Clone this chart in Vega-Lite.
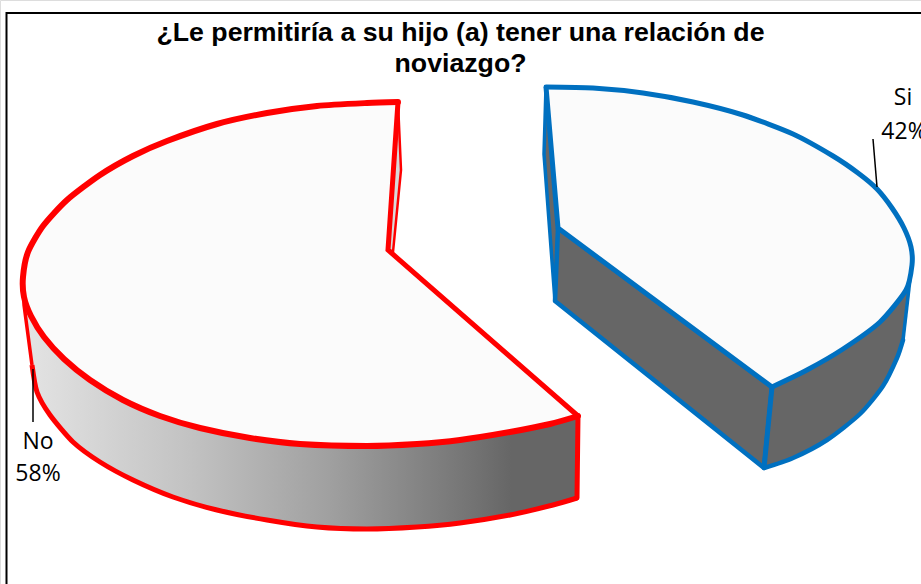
{
"$schema":"https://vega.github.io/schema/vega-lite/v6.json",
"width":921,"height":584,"padding":0,"autosize":{"type":"none"},"background":"white",
"title":{"text":["¿Le permitiría a su hijo (a) tener una relación de","noviazgo?"],"font":"Liberation Sans","fontSize":26.7,"fontWeight":"bold","color":"#000","anchor":"middle","frame":"group","baseline":"top","lineHeight":31,"dy":82},
"datasets":{
"shapes":[
{"part":"frame","o":1,"x":6.5,"y":584},{"part":"frame","o":2,"x":6.5,"y":13},{"part":"frame","o":3,"x":921,"y":13},
{"part":"noSide","o":1,"x":24,"y":297},{"part":"noSide","o":2,"x":24,"y":305},{"part":"noSide","o":3,"x":32,"y":365},{"part":"noSide","o":4,"x":37,"y":392},{"part":"noSide","o":5,"x":50,"y":415},{"part":"noSide","o":6,"x":73,"y":442},{"part":"noSide","o":7,"x":100,"y":462},{"part":"noSide","o":8,"x":133,"y":480},{"part":"noSide","o":9,"x":173,"y":497},{"part":"noSide","o":10,"x":217,"y":510},{"part":"noSide","o":11,"x":267,"y":520},{"part":"noSide","o":12,"x":317,"y":527},{"part":"noSide","o":13,"x":367,"y":529},{"part":"noSide","o":14,"x":417,"y":527},{"part":"noSide","o":15,"x":460,"y":523},{"part":"noSide","o":16,"x":510,"y":515},{"part":"noSide","o":17,"x":553,"y":505},{"part":"noSide","o":18,"x":577,"y":498},{"part":"noSide","o":19,"x":578,"y":416},{"part":"noSide","o":20,"x":367,"y":446},{"part":"noSide","o":21,"x":24,"y":297},
{"part":"noNotch","o":1,"x":398,"y":102},{"part":"noNotch","o":2,"x":401,"y":170},{"part":"noNotch","o":3,"x":393,"y":252},{"part":"noNotch","o":4,"x":388,"y":249},{"part":"noNotch","o":5,"x":398,"y":102},
{"part":"noTop","o":1,"x":398,"y":102},{"part":"noTop","o":2,"x":367,"y":103},{"part":"noTop","o":3,"x":317,"y":106},{"part":"noTop","o":4,"x":267,"y":113},{"part":"noTop","o":5,"x":217,"y":124},{"part":"noTop","o":6,"x":167,"y":141},{"part":"noTop","o":7,"x":133,"y":156},{"part":"noTop","o":8,"x":100,"y":175},{"part":"noTop","o":9,"x":67,"y":200},{"part":"noTop","o":10,"x":43,"y":226},{"part":"noTop","o":11,"x":28,"y":252},{"part":"noTop","o":12,"x":23,"y":277},{"part":"noTop","o":13,"x":24,"y":297},{"part":"noTop","o":14,"x":31,"y":316},{"part":"noTop","o":15,"x":44,"y":337},{"part":"noTop","o":16,"x":64,"y":359},{"part":"noTop","o":17,"x":90,"y":380},{"part":"noTop","o":18,"x":123,"y":400},{"part":"noTop","o":19,"x":160,"y":416},{"part":"noTop","o":20,"x":200,"y":428},{"part":"noTop","o":21,"x":250,"y":438},{"part":"noTop","o":22,"x":300,"y":444},{"part":"noTop","o":23,"x":367,"y":446},{"part":"noTop","o":24,"x":417,"y":444},{"part":"noTop","o":25,"x":460,"y":440},{"part":"noTop","o":26,"x":510,"y":432},{"part":"noTop","o":27,"x":550,"y":424},{"part":"noTop","o":28,"x":578,"y":416},{"part":"noTop","o":29,"x":388,"y":250},{"part":"noTop","o":30,"x":398,"y":102},
{"part":"siSliver","o":1,"x":546,"y":87},{"part":"siSliver","o":2,"x":558,"y":228},{"part":"siSliver","o":3,"x":555,"y":301},{"part":"siSliver","o":4,"x":544,"y":154},{"part":"siSliver","o":5,"x":546,"y":87},
{"part":"siFront","o":1,"x":558,"y":228},{"part":"siFront","o":2,"x":772,"y":387},{"part":"siFront","o":3,"x":764,"y":468},{"part":"siFront","o":4,"x":555,"y":301},{"part":"siFront","o":5,"x":558,"y":228},
{"part":"siOuter","o":1,"x":772,"y":387},{"part":"siOuter","o":2,"x":764,"y":468},{"part":"siOuter","o":3,"x":793,"y":458},{"part":"siOuter","o":4,"x":827,"y":440},{"part":"siOuter","o":5,"x":860,"y":414},{"part":"siOuter","o":6,"x":883,"y":386},{"part":"siOuter","o":7,"x":897,"y":358},{"part":"siOuter","o":8,"x":903,"y":340},{"part":"siOuter","o":9,"x":912,"y":262},{"part":"siOuter","o":10,"x":880,"y":322},{"part":"siOuter","o":11,"x":772,"y":387},
{"part":"siTop","o":1,"x":546,"y":87},{"part":"siTop","o":2,"x":593,"y":88},{"part":"siTop","o":3,"x":643,"y":93},{"part":"siTop","o":4,"x":693,"y":102},{"part":"siTop","o":5,"x":743,"y":115},{"part":"siTop","o":6,"x":793,"y":134},{"part":"siTop","o":7,"x":833,"y":156},{"part":"siTop","o":8,"x":858,"y":173},{"part":"siTop","o":9,"x":877,"y":189},{"part":"siTop","o":10,"x":892,"y":208},{"part":"siTop","o":11,"x":904,"y":228},{"part":"siTop","o":12,"x":911,"y":247},{"part":"siTop","o":13,"x":912,"y":265},{"part":"siTop","o":14,"x":906,"y":290},{"part":"siTop","o":15,"x":880,"y":322},{"part":"siTop","o":16,"x":843,"y":349},{"part":"siTop","o":17,"x":807,"y":370},{"part":"siTop","o":18,"x":772,"y":387},{"part":"siTop","o":19,"x":558,"y":228},{"part":"siTop","o":20,"x":546,"y":87},
{"part":"leaderSi","o":1,"x":873,"y":139},{"part":"leaderSi","o":2,"x":877,"y":187},
{"part":"leaderNo","o":1,"x":33,"y":369},{"part":"leaderNo","o":2,"x":33,"y":422}
],
"labels":[
{"slice":"Si","share":42,"line":"Si","x":903,"y":105},
{"slice":"Si","share":42,"line":"42%","x":904,"y":139},
{"slice":"No","share":58,"line":"No","x":38,"y":449},
{"slice":"No","share":58,"line":"58%","x":38,"y":481}
]},
"encoding":{
"x":{"field":"x","type":"quantitative","axis":null,"scale":{"domain":[0,921],"nice":false,"zero":false}},
"y":{"field":"y","type":"quantitative","axis":null,"scale":{"domain":[0,584],"reverse":true,"nice":false,"zero":false}},
"order":{"field":"o","type":"quantitative"}
},
"layer":[
{"data":{"name":"shapes"},"transform":[{"filter":"datum.part=='frame'"}],"mark":{"type":"line","stroke":"#000","strokeWidth":2}},
{"data":{"name":"shapes"},"transform":[{"filter":"datum.part=='noSide'"}],"mark":{"type":"line","filled":true,"fill":{"gradient":"linear","x1":0,"x2":1,"y1":0,"y2":0,"stops":[{"offset":0,"color":"#e4e4e4"},{"offset":0.3,"color":"#c2c2c2"},{"offset":0.55,"color":"#a0a0a0"},{"offset":0.8,"color":"#757575"},{"offset":0.88,"color":"#666666"},{"offset":1,"color":"#666666"}]},"stroke":null}},
{"data":{"name":"shapes"},"transform":[{"filter":"datum.part=='noSide' && datum.o<=3"}],"mark":{"type":"line","stroke":"#ff0000","strokeWidth":3.5}},
{"data":{"name":"shapes"},"transform":[{"filter":"datum.part=='noSide' && datum.o>=3 && datum.o<=18"}],"mark":{"type":"line","interpolate":"cardinal","tension":0.3,"stroke":"#ff0000","strokeWidth":5}},
{"data":{"name":"shapes"},"transform":[{"filter":"datum.part=='noSide' && datum.o>=18 && datum.o<=19"}],"mark":{"type":"line","stroke":"#ff0000","strokeWidth":5,"strokeCap":"round"}},
{"data":{"name":"shapes"},"transform":[{"filter":"datum.part=='noNotch'"}],"mark":{"type":"line","filled":true,"fill":"#d9d9d9","stroke":"#ff0000","strokeWidth":2.5,"strokeJoin":"round"}},
{"data":{"name":"shapes"},"transform":[{"filter":"datum.part=='noTop'"}],"mark":{"type":"line","filled":true,"fill":"#fbfbfb","stroke":null}},
{"data":{"name":"shapes"},"transform":[{"filter":"datum.part=='noTop' && datum.o<=28"}],"mark":{"type":"line","interpolate":"cardinal","tension":0.3,"stroke":"#ff0000","strokeWidth":6,"strokeCap":"round"}},
{"data":{"name":"shapes"},"transform":[{"filter":"datum.part=='noTop' && datum.o>=28"}],"mark":{"type":"line","stroke":"#ff0000","strokeWidth":5,"strokeJoin":"miter"}},
{"data":{"name":"shapes"},"transform":[{"filter":"datum.part=='siSliver'"}],"mark":{"type":"line","filled":true,"fill":"#666666","stroke":"#0070c0","strokeWidth":3.5,"strokeJoin":"round"}},
{"data":{"name":"shapes"},"transform":[{"filter":"datum.part=='siFront'"}],"mark":{"type":"line","filled":true,"fill":"#666666","stroke":"#0070c0","strokeWidth":4.5,"strokeJoin":"round"}},
{"data":{"name":"shapes"},"transform":[{"filter":"datum.part=='siOuter'"}],"mark":{"type":"line","filled":true,"fill":"#666666","stroke":null}},
{"data":{"name":"shapes"},"transform":[{"filter":"datum.part=='siOuter' && datum.o>=2 && datum.o<=8"}],"mark":{"type":"line","interpolate":"cardinal","tension":0.3,"stroke":"#0070c0","strokeWidth":4.5,"strokeCap":"round"}},
{"data":{"name":"shapes"},"transform":[{"filter":"datum.part=='siOuter' && datum.o>=8 && datum.o<=9"}],"mark":{"type":"line","stroke":"#0070c0","strokeWidth":3.5}},
{"data":{"name":"shapes"},"transform":[{"filter":"datum.part=='siOuter' && datum.o<=2"}],"mark":{"type":"line","stroke":"#0070c0","strokeWidth":5}},
{"data":{"name":"shapes"},"transform":[{"filter":"datum.part=='siTop'"}],"mark":{"type":"line","filled":true,"fill":"#fbfbfb","stroke":null}},
{"data":{"name":"shapes"},"transform":[{"filter":"datum.part=='siTop' && datum.o<=18"}],"mark":{"type":"line","interpolate":"cardinal","tension":0.3,"stroke":"#0070c0","strokeWidth":5,"strokeCap":"round"}},
{"data":{"name":"shapes"},"transform":[{"filter":"datum.part=='siTop' && datum.o>=18"}],"mark":{"type":"line","stroke":"#0070c0","strokeWidth":5,"strokeJoin":"miter"}},
{"data":{"name":"shapes"},"transform":[{"filter":"datum.part=='leaderSi'"}],"mark":{"type":"line","stroke":"#000","strokeWidth":1.5}},
{"data":{"name":"shapes"},"transform":[{"filter":"datum.part=='leaderNo'"}],"mark":{"type":"line","stroke":"#000","strokeWidth":1.5}},
{"data":{"name":"labels"},"mark":{"type":"text","font":"Open Sans","fontSize":23,"align":"center","baseline":"alphabetic","color":"#000"},"encoding":{"text":{"field":"line","type":"nominal"},"order":{"value":null}}}
]
}
